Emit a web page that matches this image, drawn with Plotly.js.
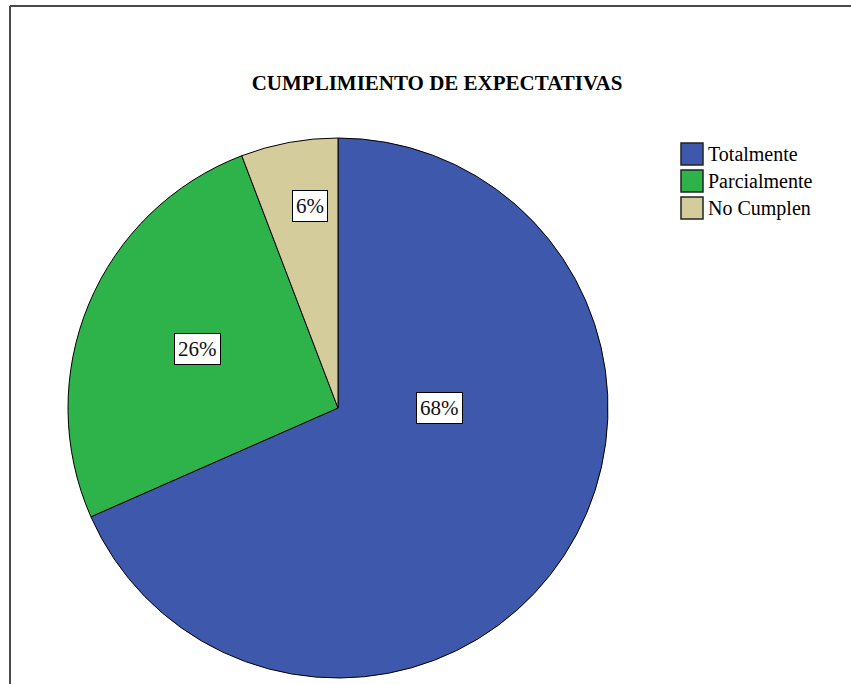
<!DOCTYPE html>
<html>
<head>
<meta charset="utf-8">
<script src="https://cdn.plot.ly/plotly-3.0.1.min.js"></script>
<style>
  html, body { margin: 0; padding: 0; background: #fff; }
  #chart { width: 851px; height: 684px; }
</style>
</head>
<body>
<div id="chart"></div>
<script>
// ---- data ----
const categories = ['Totalmente', 'Parcialmente', 'No Cumplen'];
const values = [68.4, 25.8, 5.8];
const sliceColors = ['#3E58AC', '#2DB34A', '#D4CD9B'];
const chartTitle = 'CUMPLIMIENTO DE EXPECTATIVAS';

// ---- layout helpers (pixel -> paper) ----
const W = 851, H = 684;
const px = x => x / W;
const py = y => 1 - y / H;
const serif = '"Liberation Serif", "Times New Roman", serif';

// percentage label positions (pixels) for each slice
const labelPos = [[439, 408], [197, 349], [310, 206]];

const annotations = [];
const shapes = [];

// frame lines (top and left)
shapes.push({type: 'line', xref: 'paper', yref: 'paper', x0: px(10), x1: px(10), y0: 0, y1: py(6), line: {color: '#4a4a4a', width: 2}});
shapes.push({type: 'line', xref: 'paper', yref: 'paper', x0: px(10), x1: 1, y0: py(6), y1: py(6), line: {color: '#4a4a4a', width: 2}});

// percentage boxes
const total = values.reduce((a, b) => a + b, 0);
values.forEach((v, i) => {
  annotations.push({
    xref: 'paper', yref: 'paper',
    x: px(labelPos[i][0]), y: py(labelPos[i][1]),
    xanchor: 'center', yanchor: 'middle',
    text: Math.round(v / total * 100) + '%',
    showarrow: false,
    font: {family: serif, size: 21, color: '#111'},
    bgcolor: '#fff', bordercolor: '#000', borderwidth: 1, borderpad: 3
  });
});

// custom legend
categories.forEach((c, i) => {
  const top = 143 + i * 27;
  shapes.push({
    type: 'rect', xref: 'paper', yref: 'paper',
    x0: px(681), x1: px(703), y0: py(top + 22), y1: py(top),
    fillcolor: sliceColors[i], line: {color: '#222', width: 1.5}
  });
  annotations.push({
    xref: 'paper', yref: 'paper',
    x: px(706), y: py(top + 11),
    xanchor: 'left', yanchor: 'middle',
    text: c, showarrow: false,
    font: {family: serif, size: 20, color: '#000'}
  });
});

const trace = {
  type: 'pie',
  labels: categories,
  values: values,
  sort: false,
  direction: 'clockwise',
  rotation: 0,
  textinfo: 'none',
  hoverinfo: 'label+percent',
  marker: {colors: sliceColors, line: {color: '#000', width: 1}},
  domain: {x: [px(68), px(608)], y: [py(678), py(138)]},
  showlegend: false
};

const layout = {
  width: W, height: H,
  margin: {l: 0, r: 0, t: 0, b: 0},
  paper_bgcolor: '#fff',
  plot_bgcolor: '#fff',
  showlegend: false,
  title: {
    text: '<b>' + chartTitle + '</b>',
    x: px(437), xanchor: 'center', xref: 'paper',
    y: 1 - 83 / H, yanchor: 'middle', yref: 'container',
    font: {family: serif, size: 21, color: '#000'}
  },
  shapes: shapes,
  annotations: annotations
};

Plotly.newPlot('chart', [trace], layout, {displayModeBar: false, staticPlot: true});
</script>
</body>
</html>
